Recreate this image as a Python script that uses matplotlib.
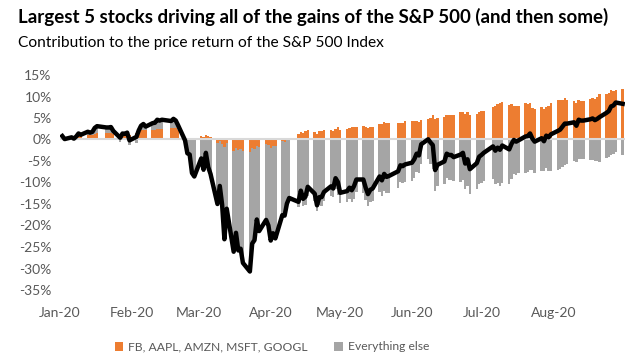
import matplotlib
matplotlib.use("Agg")
import matplotlib.pyplot as plt
import matplotlib.dates as mdates
from matplotlib.ticker import FuncFormatter
import numpy as np
import pandas as pd

plt.rcParams['font.family'] = ['Lato', 'DejaVu Sans']

# trading days Jan 2 - Aug 31 2020
holidays = ['2020-01-20', '2020-02-17', '2020-04-10', '2020-05-25', '2020-07-03']
dates = pd.bdate_range('2020-01-02', '2020-08-31')
dates = dates[~dates.isin(pd.to_datetime(holidays))]

# S&P 500 price return YTD (%)
total = [
    # Jan
    0.8, 0.1, 0.5, 0.2, 0.7, 1.4, 1.1, 1.8, 1.6, 1.8, 2.7, 3.1,
    2.8, 2.8, 2.9, 2.0, 0.4, 1.4, 1.3, 1.6, -0.2,
    # Feb
    0.6, 2.1, 3.2, 3.6, 3.0, 3.8, 3.9, 4.6, 4.4, 4.6, 4.3, 4.8, 4.4, 3.3,
    -0.2, -3.2, -3.5, -7.8, -8.6,
    # Mar
    -4.4, -7.0, -3.1, -6.4, -8.0, -15.0, -10.8, -15.1, -23.2, -16.1,
    -26.1, -21.7, -25.8, -25.4, -28.7, -30.7, -24.2, -23.4, -18.6, -21.3,
    -18.7, -20.0,
    # Apr
    -23.5, -21.8, -23.0, -17.6, -17.7, -14.9, -13.6, -14.5, -11.9, -13.8,
    -13.3, -11.0, -12.6, -15.3, -13.4, -13.4, -12.2, -10.9, -11.4, -9.0, -9.9,
    # May
    -12.4, -12.0, -11.2, -11.8, -10.8, -9.3, -9.3, -11.2, -12.7, -11.7,
    -11.4, -8.6, -9.5, -8.0, -8.7, -8.5, -7.4, -6.0, -6.2, -5.8,
    # Jun
    -5.4, -4.6, -3.3, -3.7, -1.1, 0.05, -0.7, -1.3, -7.1, -5.9, -5.1, -3.3,
    -3.6, -3.6, -4.1, -3.5, -3.1, -5.6, -4.6, -6.9, -5.5, -4.0,
    # Jul
    -3.6, -3.1, -1.6, -2.6, -1.9, -2.4, -1.4, -2.3, -1.0, -0.1, -0.5, -0.2,
    0.7, 0.8, 1.4, 0.2, -0.5, 0.3, -0.4, 0.9, 0.5, 1.2,
    # Aug
    2.0, 2.3, 3.0, 3.7, 3.7, 4.0, 3.2, 4.6, 4.4, 4.4, 4.7, 4.9, 4.5, 4.8,
    5.2, 6.2, 6.6, 7.7, 7.9, 8.6, 8.3,
]

# contribution of FB, AAPL, AMZN, MSFT, GOOGL (%)
top5 = [
    # Jan
    0.4, 0.3, 0.4, 0.4, 0.6, 0.9, 0.8, 1.1, 1.0, 1.0, 1.3, 1.4,
    1.4, 1.5, 1.5, 1.3, 1.0, 1.3, 1.4, 1.5, 1.1,
    # Feb
    1.5, 1.9, 2.1, 2.2, 2.1, 2.3, 2.3, 2.5, 2.4, 2.5, 2.6, 2.7, 2.6, 2.3,
    0.6, 0.3, 0.4, 0.1, 0.2,
    # Mar
    0.9, 0.6, 1.0, 0.7, 0.5, -0.8, -0.3, -1.0, -1.8, -0.9,
    -2.6, -2.0, -2.4, -2.3, -2.7, -2.8, -2.0, -2.3, -1.4, -1.8,
    -1.0, -1.3,
    # Apr
    -1.9, -1.4, -1.6, -0.4, -0.5, -0.2, -0.1, 1.2, 1.8, 1.6,
    2.0, 2.1, 1.8, 1.3, 1.9, 2.0, 2.1, 2.2, 1.9, 2.4, 2.9,
    # May
    2.3, 2.5, 2.6, 2.8, 3.0, 3.0, 3.2, 2.8, 2.7, 2.9,
    3.0, 3.7, 3.6, 4.0, 3.8, 3.9, 3.9, 3.8, 3.9, 4.2,
    # Jun
    4.2, 4.3, 4.3, 4.1, 4.5, 4.7, 5.0, 5.6, 4.8, 5.0, 5.2, 5.6,
    5.8, 5.8, 5.6, 6.3, 6.4, 6.0, 6.3, 5.7, 5.9, 6.3,
    # Jul
    6.6, 6.6, 7.5, 7.7, 8.2, 8.5, 8.8, 8.1, 8.2, 7.9, 7.8, 7.7,
    8.6, 8.3, 8.4, 7.4, 7.2, 7.6, 7.0, 7.5, 7.9, 8.6,
    # Aug
    9.1, 9.2, 9.3, 9.7, 9.3, 9.0, 8.5, 9.1, 9.0, 9.0, 9.4, 9.6, 9.5, 9.8,
    10.5, 10.6, 10.7, 11.4, 11.2, 11.5, 11.8,
]

series_labels = ['FB, AAPL, AMZN, MSFT, GOOGL', 'Everything else']
month_ticks = pd.date_range('2020-01-01', '2020-08-01', freq='MS')

total = np.array(total)
top5 = np.array(top5)
rest = total - top5
# stack the grey bar on the orange one when both have the same sign
rest_bottom = np.where(np.sign(rest) == np.sign(top5), top5, 0)

orange = '#ED7D31'
grey = '#A5A5A5'
label_col = '#595959'

fig = plt.figure(figsize=(6.33, 3.6), dpi=100)
ax = fig.add_axes([60 / 633, 70 / 360, 565 / 633, 215 / 360])

ax.bar(dates, top5, width=1.05, color=orange, linewidth=0, label=series_labels[0])
ax.bar(dates, rest, bottom=rest_bottom, width=1.05, color=grey, linewidth=0,
       label=series_labels[1])
ax.axhline(0, color='#D9D9D9', lw=1.5, zorder=3)
ax.plot(dates, total, color='black', lw=3.2, zorder=4, solid_joinstyle='round')

ax.set_xlim(pd.Timestamp('2020-01-01'), pd.Timestamp('2020-09-01'))
ax.set_ylim(-35, 15)
ax.set_yticks(np.arange(-35, 16, 5))
ax.yaxis.set_major_formatter(FuncFormatter(lambda v, p: f'{v:.0f}%'))
ax.set_xticks(month_ticks)
ax.xaxis.set_major_formatter(mdates.DateFormatter('%b-%y'))
ax.tick_params(axis='both', length=0, labelsize=10, labelcolor=label_col)
ax.tick_params(axis='x', pad=12)
ax.tick_params(axis='y', pad=6)
for s in ax.spines.values():
    s.set_visible(False)

fig.text(18 / 633, 1 - 17 / 360, 'Largest 5 stocks driving all of the gains of the S&P 500 (and then some)',
         fontsize=13.5, fontweight='bold', va='center', ha='left')
fig.text(18 / 633, 1 - 43 / 360, 'Contribution to the price return of the S&P 500 Index',
         fontsize=11.2, va='center', ha='left')

fig.legend(loc='center', bbox_to_anchor=(272 / 633, 13 / 360), ncol=2, frameon=False,
           fontsize=8.7, labelcolor=label_col, handlelength=0.7, handleheight=0.7,
           handletextpad=0.4, columnspacing=2.2)

fig.savefig('out.png', dpi=100)
